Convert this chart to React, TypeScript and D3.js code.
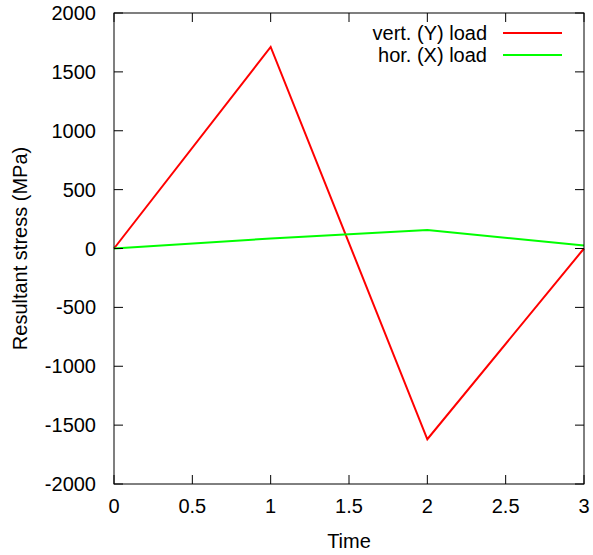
import React from "react";
import * as d3 from "d3";

const times = [0, 1, 2, 3];
const vertLoad = [0, 1712, -1620, 0];
const horLoad = [0, 85, 157, 25];
const xTicks = [0, 0.5, 1, 1.5, 2, 2.5, 3];
const yTicks = [-2000, -1500, -1000, -500, 0, 500, 1000, 1500, 2000];
const seriesNames = ["vert. (Y) load", "hor. (X) load"];
const seriesColors = ["#ff0000", "#00ff00"];

export default function App() {
  const W = 593, H = 555;
  const L = 114, R = 584, T = 13, B = 484;
  const x = d3.scaleLinear().domain([0, 3]).range([L, R]);
  const y = d3.scaleLinear().domain([-2000, 2000]).range([B, T]);
  const line = d3.line<[number, number]>().x(d => x(d[0])).y(d => y(d[1]));
  const series = [vertLoad, horLoad];
  const font = "Liberation Sans, Arial, sans-serif";
  const fs = 20;
  const tl = 9;
  return (
    <svg width={W} height={H} style={{ position: "absolute", left: 0, top: 0 }} fontFamily={font}>
      <rect width={W} height={H} fill="white" />
      {series.map((s, i) => (
        <path key={i} d={line(times.map((t, j) => [t, s[j]]) as [number, number][]) || ""}
          fill="none" stroke={seriesColors[i]} strokeWidth={2} />
      ))}
      <rect x={L} y={T} width={R - L} height={B - T} fill="none" stroke="black" strokeWidth={1} />
      {yTicks.map(v => (
        <g key={v}>
          <line x1={L} x2={L + tl} y1={y(v)} y2={y(v)} stroke="black" />
          <line x1={R} x2={R - tl} y1={y(v)} y2={y(v)} stroke="black" />
          <text x={L - 18} y={y(v) + 7} textAnchor="end" fontSize={fs}>{v}</text>
        </g>
      ))}
      {xTicks.map(v => (
        <g key={v}>
          <line x1={x(v)} x2={x(v)} y1={B} y2={B - tl} stroke="black" />
          <line x1={x(v)} x2={x(v)} y1={T} y2={T + tl} stroke="black" />
          <text x={x(v)} y={B + 29} textAnchor="middle" fontSize={fs}>{v}</text>
        </g>
      ))}
      <text x={(L + R) / 2} y={548} textAnchor="middle" fontSize={fs}>Time</text>
      <text transform={`translate(27, ${(T + B) / 2}) rotate(-90)`} textAnchor="middle" fontSize={fs}>Resultant stress (MPa)</text>
      {seriesNames.map((n, i) => (
        <g key={n}>
          <text x={487} y={40 + i * 22} textAnchor="end" fontSize={fs}>{n}</text>
          <line x1={503} x2={562} y1={33 + i * 22} y2={33 + i * 22} stroke={seriesColors[i]} strokeWidth={2} />
        </g>
      ))}
    </svg>
  );
}
